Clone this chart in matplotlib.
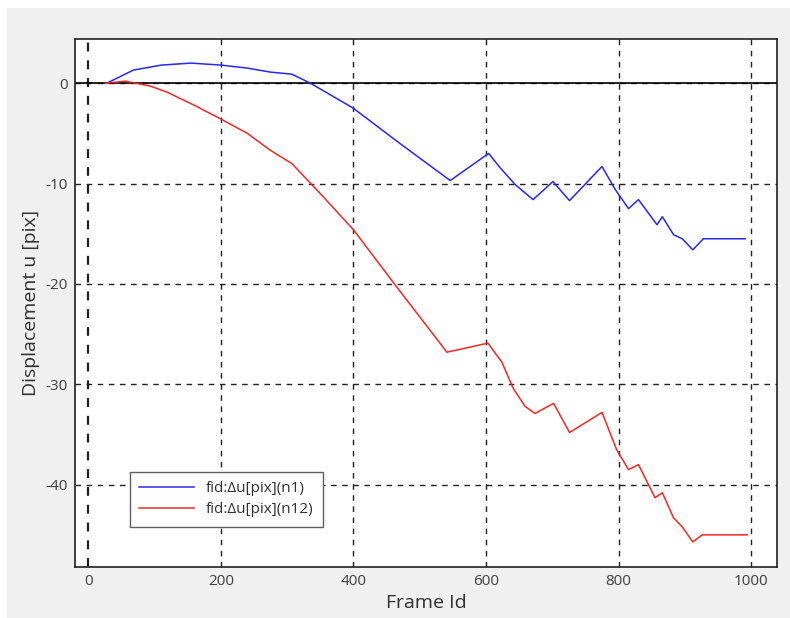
import matplotlib.pyplot as plt
from matplotlib.patches import Rectangle

plt.rcParams['font.family'] = ['Open Sans', 'DejaVu Sans']
plt.rcParams['axes.unicode_minus'] = False

# Frame ids and displacement values
frame_n1 = [28, 68, 110, 155, 200, 240, 275, 307, 335, 400, 470, 546, 604, 621, 644,
            671, 701, 726, 775, 795, 815, 830, 858, 866, 883, 896, 912, 928, 991]
disp_n1 = [0.0, 1.3, 1.8, 2.0, 1.8, 1.5, 1.1, 0.9, 0.0, -2.5, -6.0, -9.7, -7.0, -8.4, -10.1,
           -11.6, -9.8, -11.7, -8.3, -10.6, -12.5, -11.6, -14.1, -13.3, -15.1, -15.5, -16.6, -15.5, -15.5]

frame_n12 = [26, 56, 94, 119, 160, 198, 240, 275, 307, 350, 400, 463, 541, 603, 624, 641,
             659, 674, 702, 726, 775, 797, 815, 830, 855, 866, 883, 896, 912, 926, 994]
disp_n12 = [0.0, 0.2, -0.3, -0.9, -2.2, -3.5, -5.0, -6.7, -8.0, -11.0, -14.6, -20.1, -26.8, -25.9, -27.8, -30.4,
            -32.2, -32.9, -31.9, -34.8, -32.8, -36.5, -38.5, -38.0, -41.3, -40.8, -43.3, -44.2, -45.7, -45.0, -45.0]

xticks = [0, 200, 400, 600, 800, 1000]
yticks = [0, -10, -20, -30, -40]

fig = plt.figure(figsize=(7.9, 6.18), dpi=100, facecolor='#f0f0f0')
# white strips on top and left, as in the screenshot
fig.patches.append(Rectangle((0, 1 - 8 / 618), 1, 8 / 618, transform=fig.transFigure,
                             facecolor='white', edgecolor='none', zorder=-10))
fig.patches.append(Rectangle((0, 0), 7 / 790, 1, transform=fig.transFigure,
                             facecolor='white', edgecolor='none', zorder=-10))
ax = fig.add_axes([75 / 790, 1 - 567 / 618, 702 / 790, 528 / 618])

ax.plot(frame_n1, disp_n1, color='#2828f0', lw=1.1, label='fid:\u0394u[pix](n1)', zorder=3)
ax.plot(frame_n12, disp_n12, color='#f02828', lw=1.1, label='fid:\u0394u[pix](n12)', zorder=3)

# grid and zero lines
for x in xticks:
    ax.axvline(x, color='#202020', ls=(0, (4, 4)), lw=1.6 if x == 0 else 1.0, zorder=1)
for y in yticks:
    ax.axhline(y, color='#202020', ls=(0, (4, 4)), lw=1.0, zorder=1)
ax.axhline(0, color='black', lw=1.2, zorder=2)

ax.set_xlim(-20, 1039)
ax.set_ylim(-48.2, 4.4)
ax.set_xticks(xticks)
ax.set_yticks(yticks)
ax.tick_params(length=0, labelsize=11, labelcolor='#404040', pad=5)
for s in ax.spines.values():
    s.set_color('#202020')
    s.set_linewidth(1.2)

ax.set_xlabel('Frame Id', fontsize=14, color='#303030', labelpad=4)
ax.set_ylabel('Displacement u [pix]', fontsize=14, color='#303030', labelpad=4)

leg = ax.legend(loc='lower left', bbox_to_anchor=(0.067, 0.062), fontsize=11,
                fancybox=False, framealpha=1, edgecolor='#606060', handlelength=3.6,
                borderpad=0.6, labelspacing=0.4)
leg.get_frame().set_linewidth(1.0)
for t in leg.get_texts():
    t.set_color('#303030')

plt.savefig('out.png', dpi=100, facecolor=fig.get_facecolor())
